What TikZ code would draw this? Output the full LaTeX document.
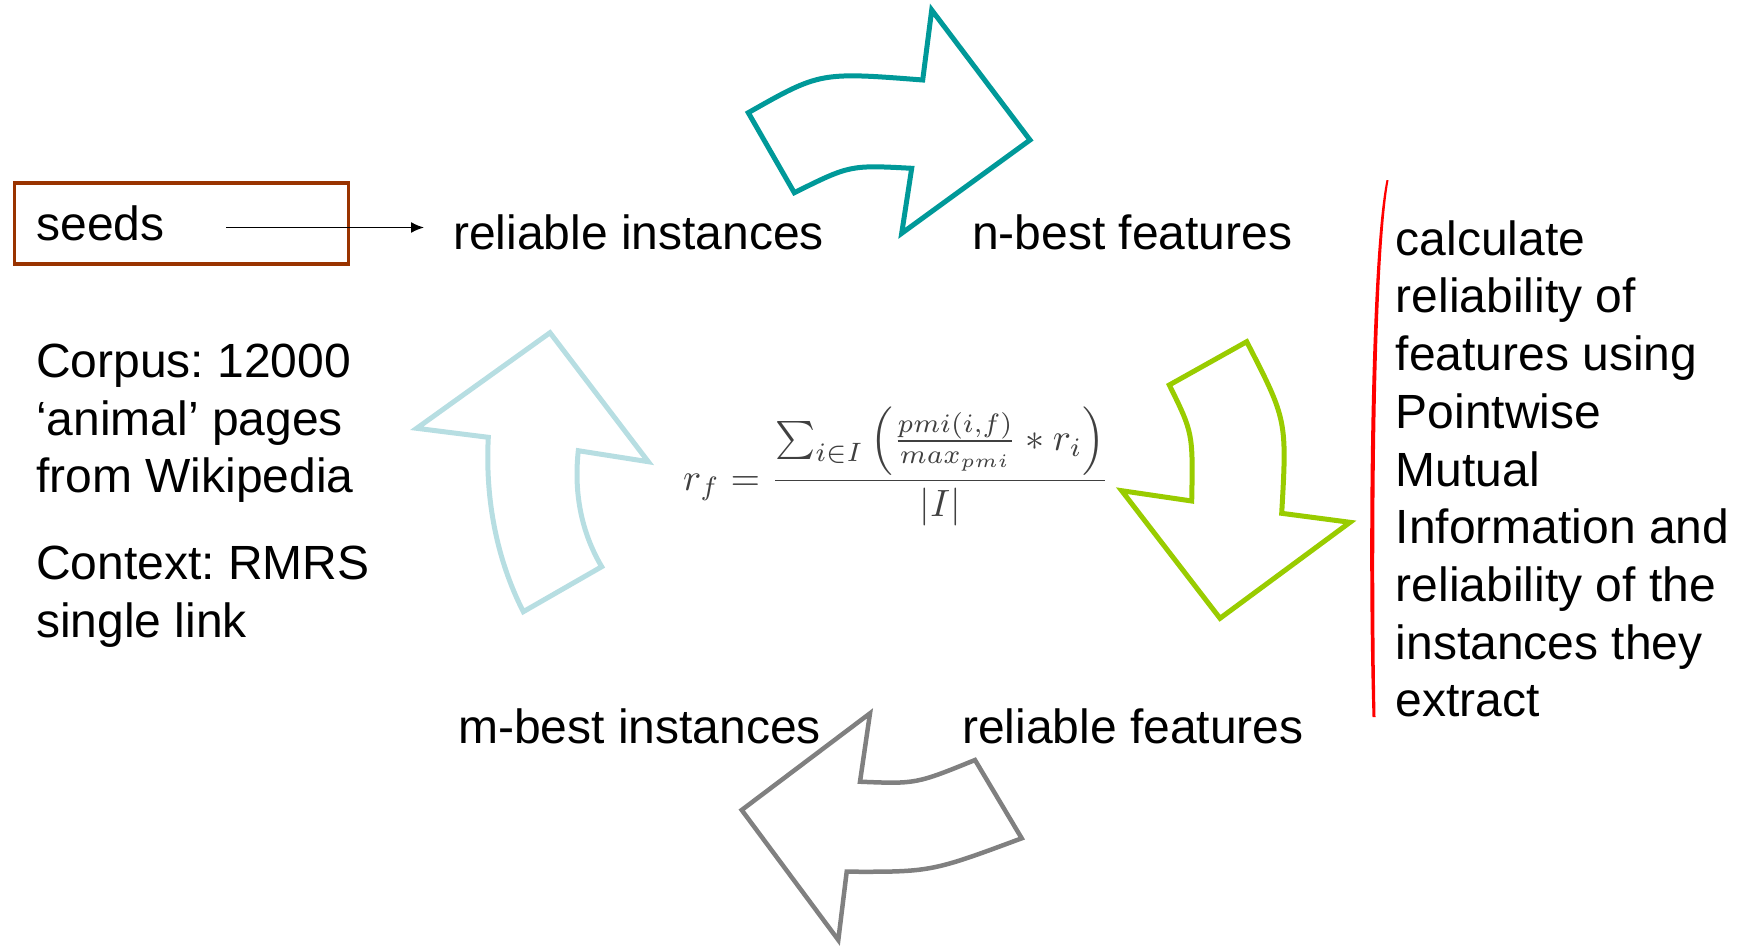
\documentclass[tikz,border=0pt]{standalone}
\usepackage[no-math]{fontspec}
\setmainfont{Liberation Sans}
\usetikzlibrary{arrows.meta}
\frenchspacing

\definecolor{seedred}{RGB}{153,51,0}
\definecolor{cycteal}{RGB}{0,153,153}
\definecolor{cycgreen}{RGB}{153,204,0}
\definecolor{cycgrey}{RGB}{128,128,128}
\definecolor{cycblue}{RGB}{183,222,226}
\definecolor{notered}{RGB}{255,0,0}

\newcommand\bodyfont{\fontsize{48}{57.7}\selectfont}

\tikzset{
  txt/.style={font=\bodyfont, inner sep=0pt, anchor=base west},
  blockarrow/.style={line width=5pt, line join=miter, miter limit=10},
}

\begin{document}
\begin{tikzpicture}[x=1pt,y=-1pt]
\useasboundingbox (0,0) rectangle (1740,945);

% seed box and its pointer
\node[draw=seedred, line width=3.5pt, font=\bodyfont, minimum width=334pt,
      minimum height=81pt, inner xsep=22pt, text width=290pt, align=left]
      (seeds) at (181.5,223.5) {seeds};

% the four stages of the cycle
\node[txt] (relinst) at (453,249.5) {reliable instances};
\node[txt] (nbest)   at (972,249.5) {n-best features};
\node[txt] (relfeat) at (962,743.5) {reliable features};
\node[txt] (mbest)   at (458,743.5) {m-best instances};

\coordinate (sfrom) at (226,227.5);
\draw[line width=1.6pt, -{Latex[length=13pt,width=11pt]}, shorten >=29pt]
  (sfrom) -- (sfrom -| relinst.west);

% side notes
\node[txt] (info) at (36,377.3) {\begin{tabular}[t]{@{}l@{}}
  Corpus: 12000\\ ‘animal’ pages\\ from Wikipedia\\[29pt]
  Context: RMRS\\ single link\end{tabular}};

\node[txt] (calc) at (1395.5,255.2) {\begin{tabular}[t]{@{}l@{}}
  calculate\\ reliability of\\ features using\\ Pointwise\\ Mutual\\
  Information and\\ reliability of the\\ instances they\\ extract\end{tabular}};

% hand-drawn bracket beside the note
\fill[notered] (1386.5,180) .. controls (1370,260) and (1367.5,560) .. (1372.5,717)
  -- (1375.5,717) .. controls (1372.5,560) and (1374,260) .. (1388.5,180) -- cycle;

% reliability formula
\node[inner sep=0pt, anchor=base west, text=black!75] (formula) at (683,490)
  {\scalebox{3.8}{$\displaystyle r_f = \frac{\sum_{i\in I}\left(\frac{pmi(i,f)}{max_{pmi}} * r_i\right)}{|I|}$}};

% curved block arrows
\draw[blockarrow, draw=cycteal] (794.3,192.7) .. controls (850,165) .. (911.7,168.3)
  -- (901.7,233.3) -- (1030,140) -- (931.7,10) -- (922.7,80)
  .. controls (820,72) .. (748.3,112.7) -- cycle;

\draw[blockarrow, draw=cycgreen] (1246.7,341.7) .. controls (1287,420) .. (1281.7,513.3)
  -- (1350,522.3) -- (1220,618.3) -- (1121.7,490.7) -- (1191.7,501)
  .. controls (1193,433) .. (1169.3,385) -- cycle;

\draw[blockarrow, draw=cycgrey, line width=4.5pt] (1021.7,838.3) .. controls (931,872) .. (846.7,871.7)
  -- (838.3,940) -- (741.7,810) -- (870,713.3) -- (860,781.7)
  .. controls (916,784) .. (975,760) -- cycle;

\draw[blockarrow, draw=cycblue] (523.3,611.7) .. controls (497,560) and (485,500) .. (488.3,437.3)
  -- (416.7,428.3) -- (550,332.7) -- (648.3,461.7) -- (578.3,450.7)
  .. controls (574,490) and (580,530) .. (601.7,566.7) -- cycle;
\end{tikzpicture}
\end{document}
